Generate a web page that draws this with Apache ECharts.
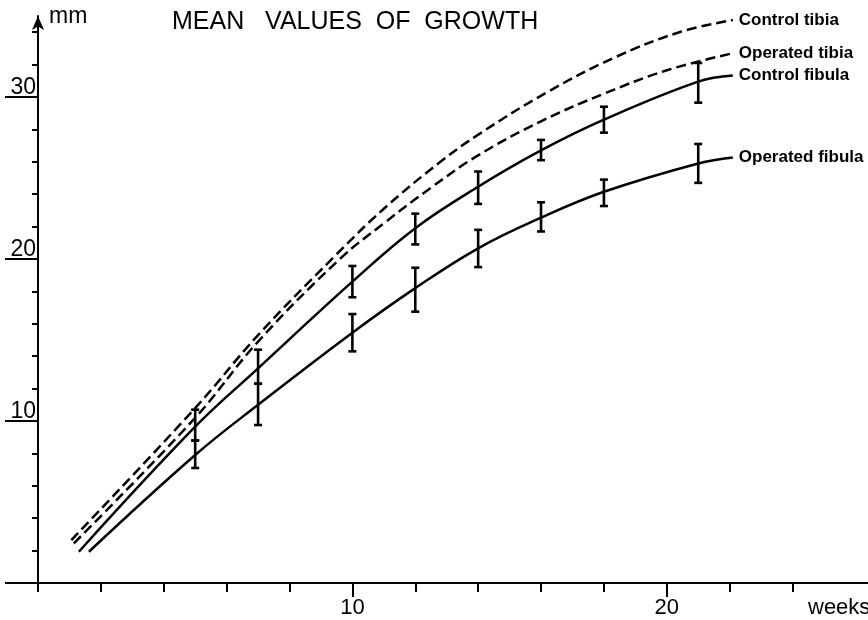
<!DOCTYPE html>
<html>
<head>
<meta charset="utf-8">
<script src="https://cdn.jsdelivr.net/npm/echarts@6/dist/echarts.min.js"></script>
<style>html,body{margin:0;padding:0;background:#fff;}#c{width:868px;height:620px;}</style>
</head>
<body>
<div id="c"></div>
<script>
// [week, mm]
const controlTibia = [[1.06,2.65],[5,10.8],[7,15.3],[9.4,20.1],[11,23.1],[12.8,26.0],[14.1,27.8],[16.2,30.3],[18.3,32.4],[20.4,34.0],[22.1,34.75]];
const operatedTibia = [[1.14,2.45],[5,10.2],[7,14.9],[9.6,20.0],[11,22.2],[12.5,24.4],[14,26.4],[16,28.5],[18,30.2],[20,31.65],[22.1,32.7]];
const controlFibula = [[1.3,1.93],[5,9.65],[7,13.25],[10,18.6],[12,21.9],[14,24.46],[16,26.7],[18,28.6],[21,30.95],[22.1,31.33]];
const operatedFibula = [[1.62,1.93],[5,7.9],[7,11.0],[10,15.45],[12,18.2],[14,20.66],[16,22.55],[18,24.15],[21,25.9],[22.1,26.27]];
// error bars: [week, low, high]
const controlFibulaErr = [[5,8.8,10.7],[7,12.3,14.4],[10,17.64,19.57],[12,20.9,22.8],[14,23.4,25.4],[16,26.1,27.35],[18,27.8,29.4],[21,29.65,32.1]];
const operatedFibulaErr = [[5,7.1,8.8],[7,9.75,12.3],[10,14.3,16.6],[12,16.75,19.46],[14,19.5,21.8],[16,21.7,23.5],[18,23.27,24.9],[21,24.7,27.1]];
const xMinorTicks = [0,2,4,6,8,12,14,16,18,22,24];
const xMajorTicks = [10,20];
const yMinorTicks = [2,4,6,8,12,14,16,18,22,24,26,28,32,34];
const yMajorTicks = [0,10,20,30];
const yLabels = [10,20,30];

const FONT = '"Liberation Sans", Arial, sans-serif';
const chart = echarts.init(document.getElementById('c'), null, {renderer:'canvas'});

function errItem(params, api) {
  const x = api.value(0);
  const lo = api.coord([x, api.value(1)]);
  const hi = api.coord([x, api.value(2)]);
  const w = 4;
  const st = {stroke:'#000', lineWidth:2.6};
  return {type:'group', children:[
    {type:'line', shape:{x1:lo[0], y1:lo[1], x2:hi[0], y2:hi[1]}, style:st},
    {type:'line', shape:{x1:lo[0]-w, y1:lo[1], x2:lo[0]+w, y2:lo[1]}, style:st},
    {type:'line', shape:{x1:hi[0]-w, y1:hi[1], x2:hi[0]+w, y2:hi[1]}, style:st}
  ]};
}

function lineSeries(name, data, dashed) {
  return {
    name: name, type:'line', data: data, xAxisIndex:0, yAxisIndex:0,
    smooth:0.4, symbol:'none', showSymbol:false, clip:false,
    lineStyle:{color:'#000', width:2.5, type: dashed ? [10,5] : 'solid'},
    endLabel:{show:true, formatter:'{a}', distance:6, color:'#000', fontSize:17, fontWeight:'bold', fontFamily:FONT},
    emphasis:{disabled:true}
  };
}

const option = {
  animation:false,
  backgroundColor:'#fff',
  title:[
    {text:'MEAN   VALUES  OF  GROWTH', left:172, top:10, padding:0, textStyle:{fontSize:25, fontWeight:'normal', color:'#000', fontFamily:FONT}},
    {text:'mm', left:49, top:5, padding:0, textStyle:{fontSize:23, fontWeight:'normal', color:'#000', fontFamily:FONT}},
    {text:'weeks', left:808, top:597, padding:0, textStyle:{fontSize:22, fontWeight:'normal', color:'#000', fontFamily:FONT}}
  ],
  grid:{left:38, right:0, top:16, bottom:37, containLabel:false},
  xAxis:[
    {type:'value', min:0, max:26.4, position:'bottom',
     axisLine:{show:true, lineStyle:{color:'#000', width:2}},
     axisTick:{show:true, customValues:xMinorTicks, length:9, lineStyle:{color:'#000', width:2}},
     axisLabel:{show:false}, splitLine:{show:false}},
    {type:'value', min:0, max:26.4, position:'bottom',
     axisLine:{show:false},
     axisTick:{show:true, customValues:xMajorTicks, length:14, lineStyle:{color:'#000', width:2}},
     axisLabel:{show:true, customValues:xMajorTicks, margin:14, fontSize:22, color:'#000', fontFamily:FONT},
     splitLine:{show:false}}
  ],
  yAxis:[
    {type:'value', min:0, max:35, position:'left',
     axisLine:{show:true, symbol:['none','arrow'], symbolSize:[9,14], lineStyle:{color:'#000', width:2}},
     axisTick:{show:true, customValues:yMinorTicks, length:6, lineStyle:{color:'#000', width:2}},
     axisLabel:{show:false}, splitLine:{show:false}},
    {type:'value', min:0, max:35, position:'left',
     axisLine:{show:false},
     axisTick:{show:true, customValues:yMajorTicks, length:33, lineStyle:{color:'#000', width:2}},
     axisLabel:{show:true, customValues:yLabels, margin:2, fontSize:23, color:'#000', fontFamily:FONT, verticalAlign:'bottom', lineHeight:19},
     splitLine:{show:false}}
  ],
  series:[
    lineSeries('Control tibia', controlTibia, true),
    lineSeries('Operated tibia', operatedTibia, true),
    lineSeries('Control fibula', controlFibula, false),
    lineSeries('Operated fibula', operatedFibula, false),
    {type:'custom', name:'cfErr', renderItem:errItem, data:controlFibulaErr, xAxisIndex:0, yAxisIndex:0, encode:{x:0, y:[1,2]}, clip:false},
    {type:'custom', name:'ofErr', renderItem:errItem, data:operatedFibulaErr, xAxisIndex:0, yAxisIndex:0, encode:{x:0, y:[1,2]}, clip:false}
  ]
};
chart.setOption(option);
</script>
</body>
</html>
